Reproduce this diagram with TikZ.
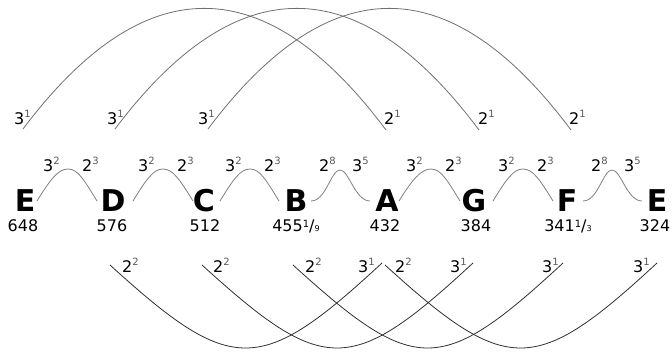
\documentclass[tikz,border=0pt]{standalone}
\usepackage{fontspec}
\setmainfont{DejaVu Sans}
\usetikzlibrary{calc}
\definecolor{supgrey}{HTML}{5A5A5A}
\definecolor{toparc}{HTML}{707070}
\definecolor{smallarc}{HTML}{808080}
\definecolor{botarc}{HTML}{303030}
\newcommand\pw[2]{#1\raisebox{7.4pt}{\fontsize{10}{10}\selectfont\color{supgrey}#2}}
\newcommand\frc[2]{\raisebox{4.8pt}{\fontsize{10}{10}\selectfont #1}/{\fontsize{8}{8}\selectfont #2}}
\begin{document}
\begin{tikzpicture}[x=1pt,y=-1pt,
  lab/.style={inner sep=0pt, anchor=base west, font=\fontsize{16}{16}\selectfont},
  note/.style={inner sep=0pt, anchor=base, font=\fontsize{30}{30}\selectfont\bfseries},
  num/.style={inner sep=0pt, anchor=base, font=\fontsize{16}{16}\selectfont},
  tarc/.style={draw=toparc, line width=0.8pt},
  sarc/.style={draw=smallarc, line width=0.8pt},
  barc/.style={draw=botarc, line width=0.8pt}]
\useasboundingbox (0,0) rectangle (672,352);

% note letters
\node[note] (nE1) at (25,212) {E};
\node[note] (nD) at (113,212) {D};
\node[note] (nC) at (204,212) {C};
\node[note] (nB) at (296,212) {B};
\node[note] (nA) at (387,212) {A};
\node[note] (nG) at (474,212) {G};
\node[note] (nF) at (567,212) {F};
\node[note] (nE2) at (657,212) {E};

% frequencies
\node[num] (f1) at (23,232) {648};
\node[num] (f2) at (112,232) {576};
\node[num] (f3) at (205,232) {512};
\node[num] (f4) at (296,232) {455\frc{1}{9}};
\node[num] (f5) at (385,232) {432};
\node[num] (f6) at (476,232) {384};
\node[num] (f7) at (568,232) {341\frc{1}{3}};
\node[num] (f8) at (655,232) {324};

% small arches (3^2 2^3)
\foreach \i/\a/\p/\b in {1/37/68/97, 2/133/163/193, 3/220/250/279, 5/399/431/460, 6/493/523/553}{
  \coordinate (sa\i) at (\a,201);
  \coordinate (sp\i) at (\p,169);
  \coordinate (sb\i) at (\b,201);
  \draw[sarc] (sa\i) .. controls ($(sa\i)+(13,-21)$) and ($(sp\i)+(-10,0)$) .. (sp\i)
                     .. controls ($(sp\i)+(10,0)$) and ($(sb\i)+(-13,-21)$) .. (sb\i);
  \node[lab] (sl\i) at (\p-25,172) {\pw{3}{2}};
  \node[lab] (sr\i) at (\p+14,172) {\pw{2}{3}};
}
% bells (2^8 3^5)
\foreach \i/\a/\p/\b in {4/311/340/370, 7/583/612/642}{
  \coordinate (sa\i) at (\a,201);
  \coordinate (sp\i) at (\p,170);
  \coordinate (sb\i) at (\b,201);
  \draw[sarc] (sa\i) .. controls ($(sa\i)+(15,0)$) and ($(sp\i)+(-9,0)$) .. (sp\i)
                     .. controls ($(sp\i)+(9,0)$) and ($(sb\i)+(-15,0)$) .. (sb\i);
  \node[lab] (sl\i) at (\p-21,172) {\pw{2}{8}};
  \node[lab] (sr\i) at (\p+12,172) {\pw{3}{5}};
}

% top arcs (3^1 ... 2^1)
\foreach \i/\a/\b/\la/\lb in {1/23/386/14/384, 2/115/479/107/478, 3/208/571/198/569}{
  \coordinate (ta\i) at (\a,129);
  \coordinate (tb\i) at (\b,130);
  \draw[tarc] (ta\i) .. controls ($(ta\i)+(121,-161)$) and ($(tb\i)+(-121,-162)$) .. (tb\i);
  \node[lab] (tl\i) at (\la,125) {\pw{3}{1}};
  \node[lab] (tr\i) at (\lb,125) {\pw{2}{1}};
}

% bottom arcs (2^2 ... 3^1)
\foreach \i/\a/\b/\la/\lb in {1/110/382/122/358, 2/202/473/213/450, 3/293/563/305/542, 4/385/657/395/633}{
  \coordinate (ba\i) at (\a,265);
  \coordinate (bb\i) at (\b,263);
  \draw[barc] (ba\i) .. controls ($(ba\i)+(122,111)$) and ($(bb\i)+(-122,113)$) .. (bb\i);
  \node[lab] (bl\i) at (\la,273) {\pw{2}{2}};
  \node[lab] (br\i) at (\lb,273) {\pw{3}{1}};
}
\end{tikzpicture}
\end{document}
